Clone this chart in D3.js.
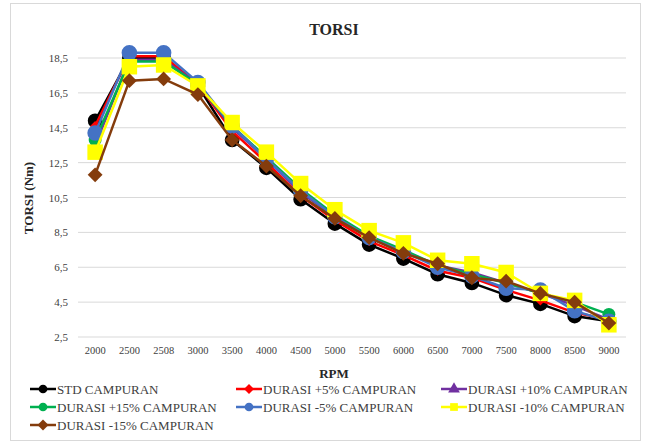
<!DOCTYPE html>
<html>
<head>
<meta charset="utf-8">
<script src="https://cdn.jsdelivr.net/npm/d3@7"></script>
<style>
body { margin: 0; background: #fff; }
svg text { font-family: "Liberation Serif", "DejaVu Serif", "Times New Roman", serif; }
</style>
</head>
<body>
<div></div>
<script>
var rpm = ["2000","2500","2508","3000","3500","4000","4500","5000","5500","6000","6500","7000","7500","8000","8500","9000"]
var yTicks = [2.5, 4.5, 6.5, 8.5, 10.5, 12.5, 14.5, 16.5, 18.5]

var stdCampuran  = [14.9,18.5,18.5,16.9,13.8,12.2,10.4,9.0,7.8,7.0,6.1,5.6,4.9,4.4,3.7,3.4]
var plus5        = [14.6,18.6,18.6,17.0,14.3,12.5,10.6,9.2,8.0,7.2,6.3,5.9,5.2,4.6,3.9,3.5]
var plus10       = [13.5,18.4,18.4,17.0,14.5,12.7,10.8,9.4,8.2,7.4,6.6,6.2,5.6,5.0,4.3,3.5]
var plus15       = [13.8,18.3,18.3,17.0,14.6,12.8,11.0,9.5,8.3,7.5,6.6,6.1,5.6,5.0,4.5,3.8]
var minus5       = [14.2,18.8,18.8,17.1,14.6,12.7,10.9,9.4,8.2,7.4,6.5,6.0,5.3,5.2,4.0,3.4]
var minus10      = [13.1,18.0,18.1,16.9,14.8,13.1,11.3,9.8,8.6,7.9,6.9,6.7,6.2,5.0,4.6,3.2]
var minus15      = [11.8,17.2,17.3,16.4,13.8,12.3,10.6,9.3,8.2,7.3,6.7,5.9,5.7,5.0,4.5,3.3]

var series = [
  { name: "STD CAMPURAN", values: stdCampuran, color: "#000000", marker: "circle", size: 170 },
  { name: "DURASI +5% CAMPURAN", values: plus5, color: "#ff0000", marker: "diamond", size: 50 },
  { name: "DURASI +10% CAMPURAN", values: plus10, color: "#7030a0", marker: "triangle", size: 70 },
  { name: "DURASI +15% CAMPURAN", values: plus15, color: "#00b050", marker: "circle", size: 130 },
  { name: "DURASI -5% CAMPURAN", values: minus5, color: "#4472c4", marker: "circle", size: 190 },
  { name: "DURASI -10% CAMPURAN", values: minus10, color: "#ffff00", marker: "square", size: 240 },
  { name: "DURASI -15% CAMPURAN", values: minus15, color: "#843c0c", marker: "diamond", size: 110 }
]

var svg = d3.select("div").append("svg")
  .attr("width", 648)
  .attr("height", 443)

// chart border
svg.append("rect")
  .attr("x", 10.5).attr("y", 3.5)
  .attr("width", 630).attr("height", 437)
  .attr("fill", "#fff")
  .attr("stroke", "#d9d9d9")

var x = d3.scaleBand().domain(rpm).range([78, 626])
var y = d3.scaleLinear().domain([2.5, 18.5]).range([337, 58])

// gridlines
svg.append("g").selectAll("line")
  .data(yTicks)
  .enter()
  .append("line")
  .attr("x1", 78).attr("x2", 626)
  .attr("y1", d => y(d)).attr("y2", d => y(d))
  .attr("stroke", "#d9d9d9")
  .attr("stroke-width", 1)

var fmt = d => d.toFixed(1).replace(".", ",")

var yAxis = svg.append("g")
  .attr("transform", "translate(78,0)")
  .call(d3.axisLeft(y).tickValues(yTicks).tickFormat(fmt).tickSize(0).tickPadding(10))
yAxis.attr("font-family", null)
yAxis.select(".domain").remove()
yAxis.selectAll("text")
  .attr("font-size", 11)
  .attr("fill", "#404040")

var xAxis = svg.append("g")
  .attr("transform", "translate(0,337)")
  .call(d3.axisBottom(x).tickSize(0).tickPadding(10))
xAxis.attr("font-family", null)
xAxis.select(".domain").remove()
xAxis.selectAll("text")
  .attr("font-size", 10.5)
  .attr("fill", "#404040")

// titles
svg.append("text")
  .attr("x", 334).attr("y", 35)
  .attr("text-anchor", "middle")
  .attr("font-weight", "bold")
  .attr("font-size", 16)
  .attr("fill", "#262626")
  .text("TORSI")

svg.append("text")
  .attr("x", 334).attr("y", 378)
  .attr("text-anchor", "middle")
  .attr("font-weight", "bold")
  .attr("font-size", 13)
  .attr("fill", "#262626")
  .text("RPM")

svg.append("text")
  .attr("transform", "translate(33,198) rotate(-90)")
  .attr("text-anchor", "middle")
  .attr("font-weight", "bold")
  .attr("font-size", 13)
  .attr("fill", "#262626")
  .text("TORSI (Nm)")

var symbolOf = m => ({ circle: d3.symbolCircle, diamond: d3.symbolSquare, triangle: d3.symbolTriangle, square: d3.symbolSquare })[m]
var rot = m => m === "diamond" ? " rotate(45)" : ""

var line = d3.line()
  .x((d, i) => x(rpm[i]) + x.bandwidth() / 2)
  .y(d => y(d))

var plot = svg.append("g")
series.forEach(function (s) {
  var g = plot.append("g")
  g.append("path")
    .attr("d", line(s.values))
    .attr("fill", "none")
    .attr("stroke", s.color)
    .attr("stroke-width", 2.5)
  g.selectAll("path.pt")
    .data(s.values)
    .enter()
    .append("path")
    .attr("class", "pt")
    .attr("transform", (d, i) => "translate(" + (x(rpm[i]) + x.bandwidth() / 2) + "," + y(d) + ")" + rot(s.marker))
    .attr("d", d3.symbol().type(symbolOf(s.marker)).size(s.size))
    .attr("fill", s.color)
})

// legend
var legCols = [30, 236, 441]
var legRows = [389, 407, 425]
var legend = svg.append("g")
series.forEach(function (s, i) {
  var lx = legCols[i % 3], ly = legRows[Math.floor(i / 3)]
  var g = legend.append("g").attr("transform", "translate(" + lx + "," + ly + ")")
  g.append("line")
    .attr("x1", 0).attr("x2", 26)
    .attr("stroke", s.color)
    .attr("stroke-width", 2.5)
  g.append("path")
    .attr("transform", "translate(13,0)" + rot(s.marker))
    .attr("d", d3.symbol().type(symbolOf(s.marker)).size(Math.min(s.size, 60)))
    .attr("fill", s.color)
  g.append("text")
    .attr("x", 27).attr("y", 4.5)
    .attr("font-size", 13)
    .attr("fill", "#404040")
    .text(s.name)
})
</script>
</body>
</html>
